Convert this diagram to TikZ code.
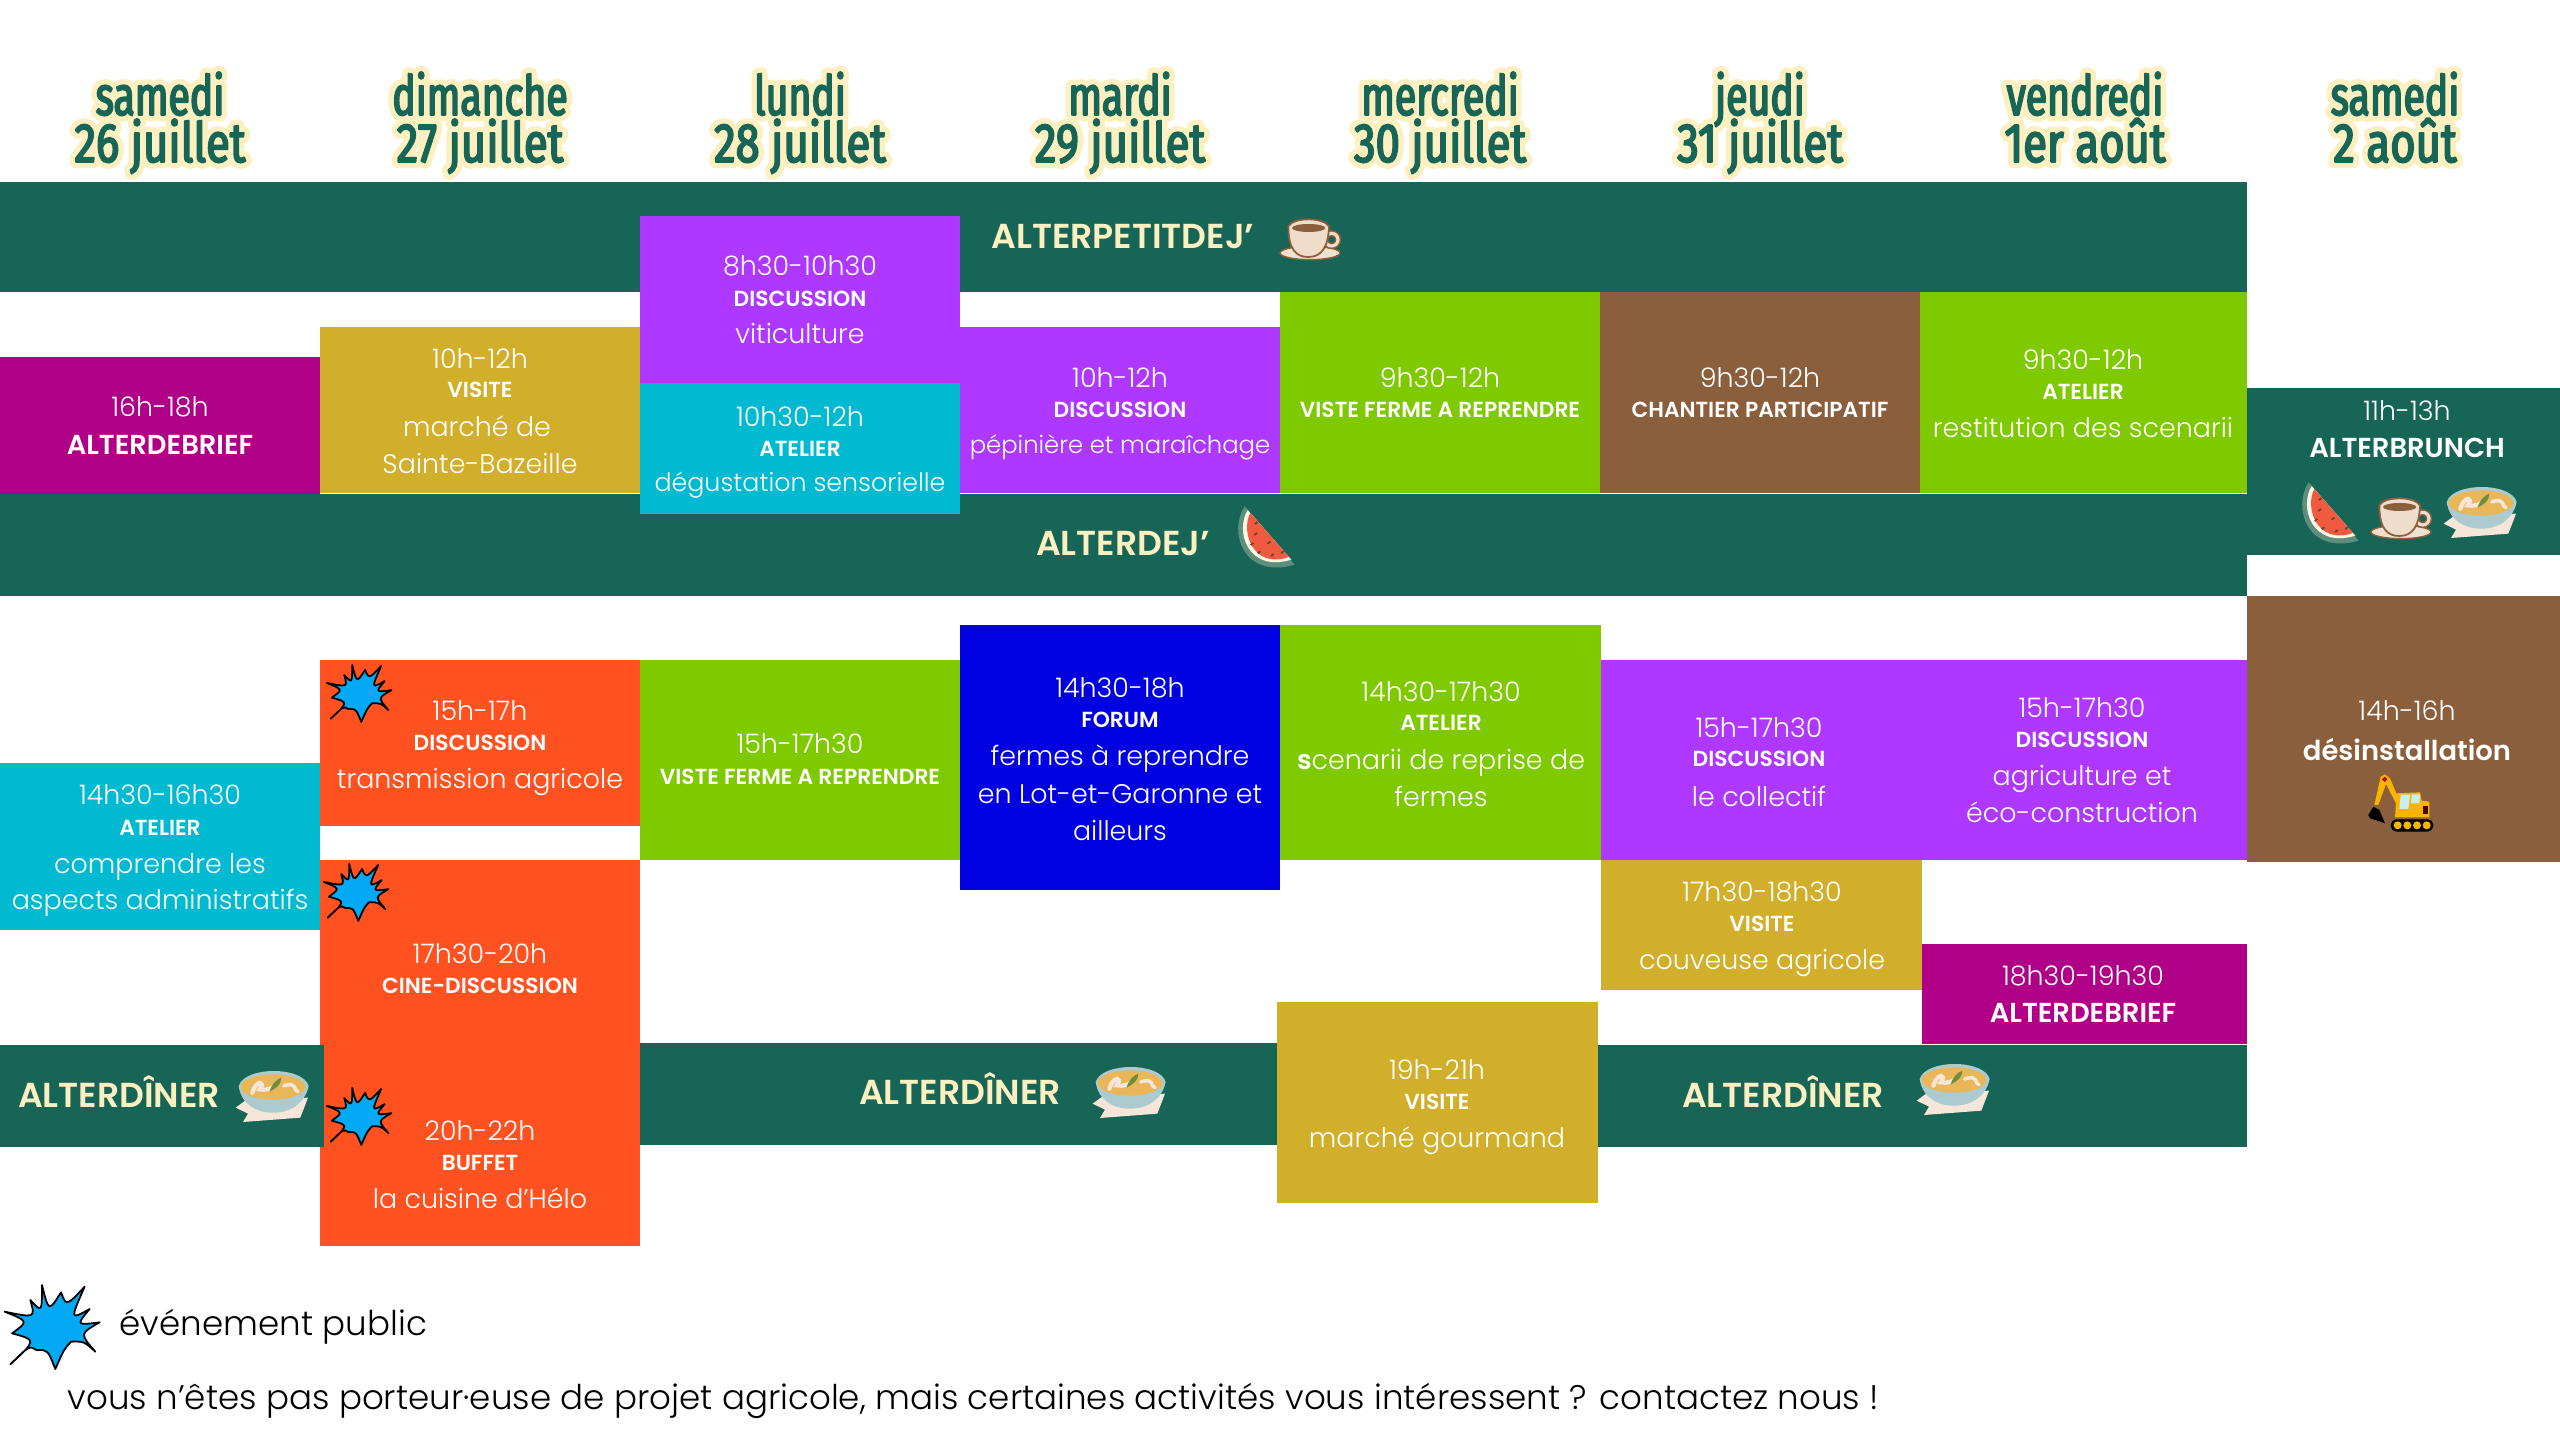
\documentclass[tikz,border=0pt]{standalone}
\usepackage{fontspec}
\setmainfont{Poppins}
\newfontfamily\legerfont{Poppins Light}
\newfontfamily\demifont{Poppins SemiBold}
\newfontfamily\jourfont[FakeStretch=0.71]{Fira Sans}
\newfontfamily\datefont[FakeStretch=0.79]{Fira Sans}
\newcommand{\cerne}[3]{\special{pdf:code 2 Tr #1 w 1 j #2 RG}#3\special{pdf:code 0 Tr 1 w 0 j 0 0 0 RG}}
\definecolor{sapin}{HTML}{176557}
\definecolor{creme}{HTML}{FDF0C0}
\definecolor{violet}{HTML}{AE38FF}
\definecolor{turquoise}{HTML}{00BAD1}
\definecolor{ocre}{HTML}{D2AF2B}
\definecolor{prune}{HTML}{B00087}
\definecolor{herbe}{HTML}{7FC900}
\definecolor{terre}{HTML}{8B5E3C}
\definecolor{vermillon}{HTML}{FF5220}
\definecolor{roi}{HTML}{0000E0}
\definecolor{ciel}{HTML}{03A9F4}
\definecolor{porcelaine}{HTML}{F0DCCB}
\definecolor{soucoupe}{HTML}{EFE0CF}
\definecolor{ecorce}{HTML}{5D8F7C}
\definecolor{chair}{HTML}{F05A40}
\definecolor{faience}{HTML}{ABCBD0}
\definecolor{soupe}{HTML}{E9B658}
\definecolor{nappe}{HTML}{F6E6DA}
\definecolor{persil}{HTML}{6E8F3A}
\definecolor{jaune}{HTML}{F8B400}
\definecolor{vitre}{HTML}{C8EEF5}
\tikzset{
  heure/.style={text=white,font=\legerfont\fontsize{7.65}{10}\selectfont,inner sep=0pt,yshift=-0.2pt},
  genre/.style={text=white,font=\demifont\fontsize{6.2}{8}\selectfont,inner sep=0pt},
  sujet/.style={text=white,font=\legerfont\fontsize{7.65}{10}\selectfont,inner sep=0pt,text height=6pt,text depth=1.8pt,yshift=-1.2pt},
  sujetfin/.style={sujet,font=\legerfont\fontsize{7.2}{10}\selectfont},
  sujetserre/.style={sujet,font=\legerfont\fontsize{6.9}{10}\selectfont},
  fort/.style={text=white,font=\demifont\fontsize{7.8}{10}\selectfont,inner sep=0pt,yshift=-0.3pt},
  repas/.style={text=creme,font=\demifont\fontsize{9.85}{11}\selectfont,inner sep=0pt},
  legende/.style={text=black,font=\legerfont\fontsize{9.7}{12}\selectfont,inner sep=0pt,anchor=west},
  halojour/.style={text=creme,font=\jourfont\fontsize{15.7}{16}\selectfont,inner sep=0pt,anchor=base},
  halodate/.style={text=creme,font=\datefont\fontsize{15.7}{16}\selectfont,inner sep=0pt,anchor=base},
  jour/.style={text=sapin,font=\jourfont\fontsize{15.7}{16}\selectfont,inner sep=0pt,anchor=base},
  date/.style={text=sapin,font=\datefont\fontsize{15.7}{16}\selectfont,inner sep=0pt,anchor=base},
  etoile/.pic={
    \begin{scope}[scale=1/3,shift={(-155,-160)}]
    \draw[fill=ciel,draw=black,line width=0.5pt,line join=round]
      (125,40) .. controls (145,121) .. (182,62) .. controls (198,104) .. (253,45)
      .. controls (209,145) .. (268,112) .. controls (227,161) .. (298,152)
      .. controls (238,186) .. (285,240) .. controls (251,209) .. (212,210)
      .. controls (191,233) .. (165,292) .. controls (142,234) .. (108,235)
      .. controls (87,222) .. (30,278) .. controls (109,205) .. (35,185)
      .. controls (85,149) .. (13,120) .. controls (105,139) .. (90,85)
      .. controls (125,123) .. (125,40) -- cycle;
    \end{scope}
  },
  cafe/.pic={
    \begin{scope}[scale=1/3,shift={(-150,-110)}]
    \draw[fill=soucoupe,draw=terre,line width=0.4pt] (150,158) ellipse (90 and 20);
    \draw[draw=terre,line width=1.8pt] (215,118) circle (19);
    \draw[draw=porcelaine,line width=0.9pt] (215,118) circle (19);
    \draw[fill=porcelaine,draw=terre,line width=0.5pt] (85,78) .. controls (85,150) and (110,170) .. (145,170) .. controls (185,170) and (205,140) .. (207,78) .. controls (190,50) and (100,50) .. (85,78) -- cycle;
    \fill[terre] (146,83) ellipse (50 and 12);
    \end{scope}
  },
  pasteque/.pic={
    \begin{scope}[scale=1/3,shift={(-130,-130)}]
    \fill[ecorce] (75,35) .. controls (25,110) and (70,255) .. (225,210) -- cycle;
    \fill[creme!40!white] (84,46) .. controls (45,110) and (85,235) .. (215,195) -- cycle;
    \fill[chair] (92,55) .. controls (62,110) and (100,225) .. (208,187) -- cycle;
    \foreach \px/\py in {110/85,108/118,97/148,148/144,118/173,158/181,189/172}
      \draw[terre!70!black,line width=0.5pt] (\px-4,\py+3) -- (\px+4,\py-3);
    \end{scope}
  },
  bol/.pic={
    \begin{scope}[scale=1/3,shift={(-130,-115)}]
    \fill[nappe] (18,150) -- (45,130) -- (235,120) -- (212,180) -- (40,193) -- (55,168) -- cycle;
    \fill[faience] (27,85) .. controls (35,140) and (80,165) .. (130,165) .. controls (180,165) and (225,140) .. (237,85) .. controls (220,25) and (45,25) .. (27,85) -- cycle;
    \fill[soupe] (130,88) ellipse (97 and 38);
    \draw[nappe,line width=1.2pt,line cap=round] (68,105) .. controls (80,65) and (110,70) .. (90,95) .. controls (110,100) and (130,90) .. (135,85);
    \draw[nappe,line width=1pt,line cap=round] (162,85) .. controls (205,70) and (190,100) .. (205,102);
    \fill[persil] (120,102) .. controls (125,80) and (140,65) .. (155,60) .. controls (155,80) and (140,92) .. (120,102) -- cycle;
    \end{scope}
  },
  pelleteuse/.pic={
    \begin{scope}[scale=1/3,shift={(-150,-120)}]
    \fill[jaune] (73,135) -- (92,50) -- (105,43) -- (120,55) -- (150,125) -- (140,135) -- (108,72) -- (85,135) -- cycle;
    \draw[fill=jaune,draw=red!70!black,line width=0.4pt] (104,58) circle (5);
    \fill[black] (70,140) -- (88,150) -- (105,190) -- (60,175) -- (55,165) -- cycle;
    \fill[jaune] (135,172) -- (140,100) -- (210,97) -- (215,122) -- (238,125) -- (238,172) -- cycle;
    \fill[vitre] (152,104) -- (180,104) -- (175,147) -- (148,147) -- cycle;
    \fill[vitre] (185,103) -- (210,103) -- (208,130) -- (183,130) -- cycle;
    \fill[black!70!red] (218,137) rectangle (234,162);
    \fill[black,rounded corners=1.6pt] (122,178) rectangle (250,215);
    \foreach \px in {143,172,201,230}
      \fill[jaune] (\px,196) circle (12);
    \end{scope}
  }
}

\begin{document}
\begin{tikzpicture}[x=0.01cm,y=-0.01cm]
  \useasboundingbox (0,0) rectangle (2560,1440);
  \fill[white] (0,0) rectangle (2560,1440);
  % jours
  \foreach \nom/\cx/\jr/\dt in {a/160/samedi/26 juillet,b/480/dimanche/27 juillet,c/800/lundi/28 juillet,d/1120/mardi/29 juillet,e/1440/mercredi/30 juillet,f/1760/jeudi/31 juillet,g/2085/vendredi/1er août,h/2395/samedi/2 août}{
    \draw (\cx,115) node[halojour] (halo\nom) {\cerne{3.6}{0.992 0.941 0.753}{\jr}};
    \draw (\cx,162) node[halodate] (halob\nom) {\cerne{3.6}{0.992 0.941 0.753}{\dt}};
    \draw (\cx,115) node[jour] (jour\nom) {\cerne{0.5}{0.09 0.396 0.341}{\jr}};
    \draw (\cx,162) node[date] (date\nom) {\cerne{0.5}{0.09 0.396 0.341}{\dt}};
  }
  % bandes des repas
  \fill[sapin] (0,182) rectangle (2247,292);
  \fill[sapin] (0,494) rectangle (2247,596);
  \fill[sapin] (640,1043) rectangle (1277,1145);
  \fill[sapin] (1598,1045) rectangle (2247,1147);
  % matin
  \fill[prune] (0,357) rectangle (320,494);
  \fill[ocre] (320,327) rectangle (640,493);
  \fill[violet] (640,216) rectangle (960,383);
  \fill[turquoise] (640,383) rectangle (960,514);
  \fill[violet] (960,327) rectangle (1280,493);
  \fill[herbe] (1280,292) rectangle (1600,493);
  \fill[terre] (1600,292) rectangle (1920,493);
  \fill[herbe] (1920,292) rectangle (2247,493);
  \fill[sapin] (2247,388) rectangle (2560,555);
  % apres-midi
  \fill[turquoise] (0,763) rectangle (320,930);
  \fill[vermillon] (320,660) rectangle (640,826);
  \fill[vermillon] (320,860) rectangle (640,1246);
  \fill[sapin] (0,1045) rectangle (324,1147);
  \fill[herbe] (640,660) rectangle (960,860);
  \fill[roi] (960,625) rectangle (1280,890);
  \fill[herbe] (1280,625) rectangle (1601,860);
  \fill[violet] (1601,660) rectangle (2247,860);
  \fill[ocre] (1601,860) rectangle (1922,990);
  \fill[prune] (1922,944) rectangle (2247,1044);
  \fill[ocre] (1277,1002) rectangle (1598,1203);
  \fill[terre] (2247,596) rectangle (2560,862);
  % textes du matin
  \draw (160,406) node[heure] (h1) {16h-18h};
  \draw (160,444) node[fort] (t1) {ALTERDEBRIEF};
  \draw (480,358) node[heure] (h2) {10h-12h};
  \draw (480,390) node[genre] (g2) {VISITE};
  \draw (477,425) node[sujet] (s2) {marché de};
  \draw (480,462) node[sujet] (r2) {Sainte-Bazeille};
  \draw (800,265) node[heure] (h3) {8h30-10h30};
  \draw (800,299) node[genre] (g3) {DISCUSSION};
  \draw (800,332) node[sujet] (s3) {viticulture};
  \draw (800,416) node[heure] (h4) {10h30-12h};
  \draw (800,449) node[genre] (g4) {ATELIER};
  \draw (800,480) node[sujetfin] (s4) {dégustation sensorielle};
  \draw (1120,377) node[heure] (h5) {10h-12h};
  \draw (1120,410) node[genre] (g5) {DISCUSSION};
  \draw (1120,442) node[sujetserre] (s5) {pépinière et maraîchage};
  \draw (1440,377) node[heure] (h6) {9h30-12h};
  \draw (1440,410) node[genre] (g6) {VISTE FERME A REPRENDRE};
  \draw (1760,377) node[heure] (h7) {9h30-12h};
  \draw (1760,410) node[genre] (g7) {CHANTIER PARTICIPATIF};
  \draw (2083,359) node[heure] (h8) {9h30-12h};
  \draw (2083,392) node[genre] (g8) {ATELIER};
  \draw (2083,426) node[sujet] (s8) {restitution des scenarii};
  \draw (2407,410) node[heure] (h9) {11h-13h};
  \draw (2407,447) node[fort] (t9) {ALTERBRUNCH};
  % textes de l'apres-midi
  \draw (160,794) node[heure] (h10) {14h30-16h30};
  \draw (160,828) node[genre] (g10) {ATELIER};
  \draw (160,862) node[sujet] (s10) {comprendre les};
  \draw (160,898) node[sujet] (r10) {aspects administratifs};
  \draw (480,710) node[heure] (h11) {15h-17h};
  \draw (480,743) node[genre] (g11) {DISCUSSION};
  \draw (480,777) node[sujet] (s11) {transmission agricole};
  \draw (480,953) node[heure] (h12) {17h30-20h};
  \draw (480,986) node[genre] (g12) {CINE-DISCUSSION};
  \draw (480,1130) node[heure] (h13) {20h-22h};
  \draw (480,1163) node[genre] (g13) {BUFFET};
  \draw (480,1197) node[sujet] (s13) {la cuisine d’Hélo};
  \draw (800,743) node[heure] (h14) {15h-17h30};
  \draw (800,777) node[genre] (g14) {VISTE FERME A REPRENDRE};
  \draw (1120,687) node[heure] (h15) {14h30-18h};
  \draw (1120,720) node[genre] (g15) {FORUM};
  \draw (1120,754) node[sujet] (s15) {fermes à reprendre};
  \draw (1120,792) node[sujet] (r15) {en Lot-et-Garonne et};
  \draw (1120,829) node[sujet] (q15) {ailleurs};
  \draw (1441,691) node[heure] (h16) {14h30-17h30};
  \draw (1441,723) node[genre] (g16) {ATELIER};
  \draw (1441,758) node[sujet] (s16) {{\demifont s}cenarii de reprise de};
  \draw (1441,795) node[sujet] (r16) {fermes};
  \draw (1759,727) node[heure] (h17) {15h-17h30};
  \draw (1759,759) node[genre] (g17) {DISCUSSION};
  \draw (1759,795) node[sujet] (s17) {le collectif};
  \draw (2082,707) node[heure] (h18) {15h-17h30};
  \draw (2082,740) node[genre] (g18) {DISCUSSION};
  \draw (2082,774) node[sujet] (s18) {agriculture et};
  \draw (2082,811) node[sujet] (r18) {éco-construction};
  \draw (2407,710) node[heure] (h19) {14h-16h};
  \draw (2407,748) node[fort] (t19) {désinstallation};
  \draw (1762,891) node[heure] (h20) {17h30-18h30};
  \draw (1762,924) node[genre] (g20) {VISITE};
  \draw (1762,958) node[sujet] (s20) {couveuse agricole};
  \draw (2083,975) node[heure] (h21) {18h30-19h30};
  \draw (2083,1012) node[fort] (t21) {ALTERDEBRIEF};
  \draw (1437,1069) node[heure] (h22) {19h-21h};
  \draw (1437,1102) node[genre] (g22) {VISITE};
  \draw (1437,1136) node[sujet] (s22) {marché gourmand};
  % repas
  \draw (1123,237) node[repas] (petitdej) {ALTERPETITDEJ’};
  \pic (tasse1) at (1310,237) {cafe};
  \draw (1123,544) node[repas] (dej) {ALTERDEJ’};
  \pic (melon1) at (1263,538) {pasteque};
  \draw (119,1092) node[repas] (diner1) {ALTERDÎNER};
  \pic (bol1) at (273,1096) {bol};
  \draw (960,1089) node[repas] (diner2) {ALTERDÎNER};
  \pic (bol2) at (1130,1092) {bol};
  \draw (1783,1092) node[repas] (diner3) {ALTERDÎNER};
  \pic (bol3) at (1954,1089) {bol};
  \pic (melon2) at (2327,514) {pasteque};
  \pic (tasse2) at (2401,516) {cafe};
  \pic (bol4) at (2481,512) {bol};
  \pic (engin) at (2400,800) {pelleteuse};
  % evenements publics
  \pic[scale=0.68] (astre1) at (359,692) {etoile};
  \pic[scale=0.68] (astre2) at (356,891) {etoile};
  \pic[scale=0.68] (astre3) at (359,1115) {etoile};
  \pic (astre4) at (52,1325) {etoile};
  \draw (119,1327) node[legende] (public) {événement public};
  \draw (67,1401) node[legende] (contact) {vous n’êtes pas porteur·euse de projet agricole, mais certaines activités vous intéressent ? contactez nous !};
\end{tikzpicture}
\end{document}
